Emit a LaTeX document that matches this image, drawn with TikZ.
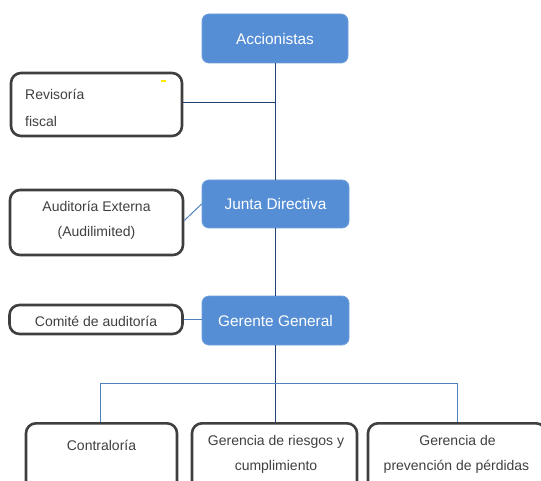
\documentclass[tikz,border=0pt]{standalone}
\usepackage{fontspec}
\setmainfont{Liberation Sans}
\definecolor{boxblue}{HTML}{558ED5}
\definecolor{boxedge}{HTML}{3F3F3F}
\definecolor{txtgray}{HTML}{404040}
\definecolor{linenavy}{HTML}{1F3F73}
\definecolor{lineblue}{HTML}{4F81BD}
\begin{document}
\begin{tikzpicture}[x=1pt,y=-1pt,
  bluebox/.style={rectangle, rounded corners=7pt, fill=boxblue, draw=boxblue!85!white, line width=0.8pt,
    text=white, font=\fontsize{15.4}{18}\selectfont, inner sep=0pt},
  whitebox/.style={rectangle, rounded corners=10pt, fill=white, draw=boxedge, line width=2.6pt,
    text=txtgray, font=\fontsize{14}{16}\selectfont, inner sep=0pt},
  txt/.style={text=txtgray, font=\fontsize{14}{16}\selectfont, inner sep=0pt, anchor=base},
  darkline/.style={draw=linenavy, line width=1pt},
  lightline/.style={draw=lineblue, line width=1pt}]
\useasboundingbox (0,0) rectangle (541,481);
\clip (0,0) rectangle (541,481);
% top chain
\node[bluebox, minimum width=146, minimum height=49] (acc) at (275,38.5) {Accionistas};
\node[bluebox, minimum width=147, minimum height=48] (jun) at (275.5,204) {Junta Directiva};
\node[bluebox, minimum width=147, minimum height=49] (ger) at (275.5,320.5) {Gerente General};
% side boxes
\node[whitebox, minimum width=171, minimum height=63] (rev) at (96.5,104.5) {};
\node[txt, anchor=base west] (rev1) at (25,100) {Revisoría};
\node[txt, anchor=base west] (rev2) at (25,127) {fiscal};
\draw[draw=yellow!90!orange, line width=1.2pt] (161,81) -- (166,81);
\node[whitebox, minimum width=173, minimum height=65] (aud) at (96.5,222.5) {};
\node[txt] (aud1) at (96.5,212) {Auditoría Externa};
\node[txt] (aud2) at (96.5,237) {(Audilimited)};
\node[whitebox, minimum width=173, minimum height=29] (com) at (96,319.5) {};
\node[txt] (com1) at (96,326) {Comité de auditoría};
% bottom boxes
\node[whitebox, minimum width=151, minimum height=70, anchor=north] (con) at (101.5,422) {};
\node[txt] (con1) at (101.5,450) {Contraloría};
\node[whitebox, minimum width=165, minimum height=70, anchor=north] (rie) at (274.5,422) {};
\node[txt] (rie1) at (276,445) {Gerencia de riesgos y};
\node[txt] (rie2) at (276,470) {cumplimiento};
\node[whitebox, minimum width=178, minimum height=70, anchor=north] (pre) at (457,422) {};
\node[txt] (pre1) at (457.5,445) {Gerencia de};
\node[txt] (pre2) at (456.5,470) {prevención de pérdidas};
% connectors
\coordinate (revj) at (275.5,103);
\draw[darkline] (acc.south -| revj) -- (jun.north -| revj);
\draw[darkline] (rev.east |- revj) -- (revj);
\draw[darkline] (jun.south -| revj) -- (ger.north -| revj);
\draw[lightline] (aud.east) ++(0,-2) -- (jun.west);
\draw[lightline] (com.east) -- (ger.west |- com.east);
\coordinate (br) at (275.5,383);
\draw[darkline] (ger.south -| br) -- (rie.north -| br);
\draw[lightline] (con.north -| 100.7,0) -- (100.7,383) -- (457,383) -- (pre.north -| 457,0);
\end{tikzpicture}
\end{document}
